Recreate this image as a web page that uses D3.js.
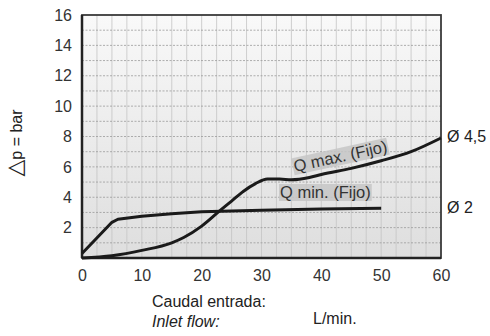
<!DOCTYPE html>
<html><head><meta charset="utf-8">
<script src="https://cdn.jsdelivr.net/npm/d3@7"></script>
<style>
html,body{margin:0;padding:0;background:#fff;}
svg{display:block;font-family:"Liberation Sans",Arial,sans-serif;}
</style></head>
<body><svg id="c" width="490" height="336"></svg>
<script>
const xTicks = [0,10,20,30,40,50,60];
const yTicks = [2,4,6,8,10,12,14,16];
const qMaxFlow = [0,5,10,15,17,20,23,25,27,29,31,33,35,38,40,45,50,55,60];
const qMaxDp   = [0,0.15,0.5,1.0,1.35,2.1,3.1,3.75,4.4,4.9,5.2,5.2,5.15,5.3,5.5,5.9,6.4,7.0,7.9];
const qMinFlow = [0,5,6,8,10,15,20,25,30,40,50];
const qMinDp   = [0.3,2.35,2.55,2.65,2.75,2.92,3.04,3.1,3.15,3.22,3.27];

const svg = d3.select("#c");
const L=82,R=441,T=15,B=258;
const x = d3.scaleLinear().domain([0,60]).range([L,R]);
const y = d3.scaleLinear().domain([0,16]).range([B,T]);
const FONT = "Liberation Sans, Arial, sans-serif";

const defs = svg.append("defs");
const g = defs.append("linearGradient").attr("id","bg").attr("x1",0).attr("y1",0).attr("x2",0).attr("y2",1);
g.append("stop").attr("offset","0%").attr("stop-color","#f9f9f9");
g.append("stop").attr("offset","100%").attr("stop-color","#dedede");
svg.append("rect").attr("x",L).attr("y",T).attr("width",R-L).attr("height",B-T).attr("fill","url(#bg)");

// vertical grid
svg.append("g").selectAll("line").data(d3.range(2.5,60,2.5)).join("line")
  .attr("x1",d=>x(d)).attr("x2",d=>x(d)).attr("y1",T).attr("y2",B)
  .attr("stroke","#c4c4c4").attr("stroke-width",0.8);
// horizontal grid
svg.append("g").selectAll("line").data(d3.range(1,16,1)).join("line")
  .attr("x1",L).attr("x2",R).attr("y1",d=>y(d)).attr("y2",d=>y(d))
  .attr("stroke","#9a9a9a").attr("stroke-width",0.8).attr("stroke-dasharray","2,1.5");

// frame
svg.append("rect").attr("x",L).attr("y",T).attr("width",R-L).attr("height",B-T)
  .attr("fill","none").attr("stroke","#3a3a3a").attr("stroke-width",1.8);
svg.append("line").attr("x1",L).attr("x2",L).attr("y1",T).attr("y2",B).attr("stroke","#222").attr("stroke-width",2.5);
svg.append("line").attr("x1",L).attr("x2",R).attr("y1",B).attr("y2",B).attr("stroke","#222").attr("stroke-width",2.5);

// axes
const xa = svg.append("g").attr("transform",`translate(0,${B})`)
  .call(d3.axisBottom(x).tickValues(xTicks).tickSize(0).tickPadding(12));
xa.select(".domain").remove();
xa.selectAll("text").attr("font-size",16).attr("fill","#333").attr("font-family",FONT);
const ya = svg.append("g").attr("transform",`translate(${L},0)`)
  .call(d3.axisLeft(y).tickValues(yTicks).tickSize(0).tickPadding(10));
ya.select(".domain").remove();
ya.selectAll("text").attr("font-size",16).attr("fill","#333").attr("font-family",FONT);

// curves
const smooth = d3.line().x(d=>x(d[0])).y(d=>y(d[1])).curve(d3.curveMonotoneX);
const straight = d3.line().x(d=>x(d[0])).y(d=>y(d[1])).curve(d3.curveLinear);
const qMin = qMinFlow.map((f,i)=>[f,qMinDp[i]]);
const qMax = qMaxFlow.map((f,i)=>[f,qMaxDp[i]]);
svg.append("path").datum(qMin).attr("d",straight).attr("fill","none").attr("stroke","#1a1a1a").attr("stroke-width",3).attr("stroke-linejoin","round");
svg.append("path").datum(qMax).attr("d",smooth).attr("fill","none").attr("stroke","#1a1a1a").attr("stroke-width",3);

// curve labels
function boxedLabel(txt, tx, ty, rot){
  const gg = svg.append("g").attr("transform",`translate(${tx},${ty}) rotate(${rot})`);
  const t = gg.append("text").text(txt).attr("font-size",16.5).attr("fill","#333");
  const bb = t.node().getBBox();
  gg.insert("rect","text").attr("x",bb.x-1).attr("y",bb.y+1).attr("width",bb.width+2).attr("height",bb.height-1)
    .attr("fill","#c6c6c6").attr("opacity",0.85);
}
boxedLabel("Q max. (Fijo)", 295, 172, -12.3);
boxedLabel("Q min. (Fijo)", 280, 198, 0);

// end labels
svg.append("text").attr("x",447).attr("y",142).attr("font-size",16).attr("fill","#222").text("Ø 4,5");
svg.append("text").attr("x",447).attr("y",213).attr("font-size",16).attr("fill","#222").text("Ø 2");

// axis titles
const yt = svg.append("text").attr("transform","translate(22,143) rotate(-90)").attr("text-anchor","middle")
  .attr("font-size",16).attr("fill","#222");
yt.append("tspan").attr("font-size",22).attr("font-family","DejaVu Sans").text("△");
yt.append("tspan").text("p = bar");
svg.append("text").attr("x",152).attr("y",307).attr("font-size",16).attr("fill","#222").text("Caudal entrada:");
svg.append("text").attr("x",152).attr("y",327).attr("font-size",16).attr("font-style","italic").attr("fill","#222").text("Inlet flow:");
svg.append("text").attr("x",313).attr("y",324).attr("font-size",16).attr("fill","#222").text("L/min.");
</script></body></html>
